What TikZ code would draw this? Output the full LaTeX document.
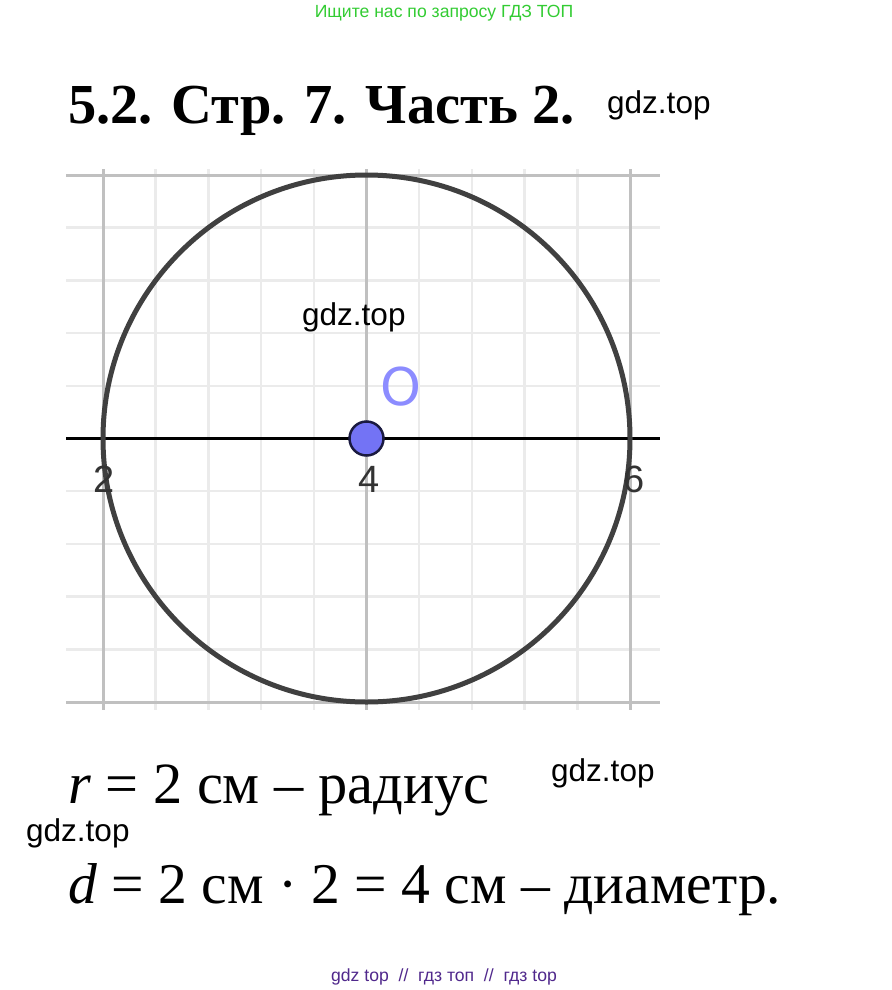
\documentclass[tikz,border=0pt]{standalone}
\usepackage{fontspec}
\setmainfont{Liberation Serif}
\newfontfamily\wmfont{Liberation Sans}
\newfontfamily\ggfont{DejaVu Sans}
\definecolor{gridminor}{RGB}{235,235,235}
\definecolor{gridmajor}{RGB}{192,192,192}
\definecolor{circcol}{RGB}{64,64,64}
\definecolor{ptfill}{RGB}{115,115,245}
\definecolor{ptdraw}{RGB}{26,26,64}
\definecolor{olbl}{RGB}{140,140,255}
\definecolor{topgreen}{RGB}{51,204,51}
\definecolor{botpurple}{RGB}{80,40,140}
\definecolor{axlblcol}{RGB}{51,51,51}
\begin{document}
\begin{tikzpicture}[x=1pt,y=-1pt,
  minorline/.style={draw=gridminor,line width=2.5pt},
  majorline/.style={draw=gridmajor,line width=3pt},
  axisline/.style={draw=black,line width=3pt},
  wm/.style={font=\wmfont\fontsize{31.5}{31.5}\selectfont,inner sep=0pt,anchor=base west,text=black},
  axlbl/.style={font=\wmfont\fontsize{38}{38}\selectfont,inner sep=0pt,anchor=base,text=axlblcol},
  bigtext/.style={inner sep=0pt,anchor=base west},
  titletext/.style={font=\bfseries\fontsize{56.5}{60}\selectfont,inner sep=0pt,anchor=base west}]
\useasboundingbox[fill=white] (0,0) rectangle (891,990);
% grid
\foreach \k in {1,2,3,4,6,7,8,9} {
  \draw[minorline] ({103+\k*52.7},169) -- ({103+\k*52.7},710);
  \draw[minorline] (66,{175+\k*52.7}) -- (660,{175+\k*52.7});
}
\draw[majorline] (66,175) -- (660,175);
\draw[majorline] (66,702) -- (660,702);
\foreach \xx in {103,366.5,630} \draw[majorline] (\xx,169) -- (\xx,710);
\draw[axisline] (66,438.5) -- (660,438.5);
% circle
\draw[draw=circcol,line width=5pt] (366.5,438.5) circle[radius=263.5pt];
% labels
\node[axlbl] (l2) at (104,492) {2};
\node[axlbl] (l4) at (369,492) {4};
\node[axlbl] (l6) at (634,492) {6};
\node[font=\ggfont\fontsize{52}{52}\selectfont,text=olbl,inner sep=0pt,anchor=base] (lblO) at (401,405) {O};
\node[circle,fill=ptfill,draw=ptdraw,line width=2.5pt,minimum size=34pt,inner sep=0pt] (O) at (366.5,438.5) {};
% watermarks
\node[wm] (w1) at (607,113) {gdz.top};
\node[wm] (w2) at (302,325) {gdz.top};
\node[wm] (w3) at (551,781) {gdz.top};
\node[wm] (w4) at (26,841) {gdz.top};
% texts
\node[font=\wmfont\fontsize{17.6}{17.6}\selectfont,text=topgreen,inner sep=0pt,anchor=base] (top) at (444,18) {Ищите нас по запросу ГДЗ ТОП};
\node[font=\wmfont\fontsize{17.6}{17.6}\selectfont,text=botpurple,inner sep=0pt,anchor=base] (bot) at (444,981) {gdz top \ // \ гдз топ \ // \ гдз top};
\node[titletext] (title) at (68,123) {5.2. Стр. 7. Часть 2.};
\node[bigtext,font=\fontsize{58.4}{62}\selectfont] (f1) at (68,803) {\textit{r} = 2 см – радиус};
\node[bigtext,font=\fontsize{57.6}{62}\selectfont] (f2) at (68,903) {\textit{d} = 2 см · 2 = 4 см – диаметр.};
\end{tikzpicture}
\end{document}
